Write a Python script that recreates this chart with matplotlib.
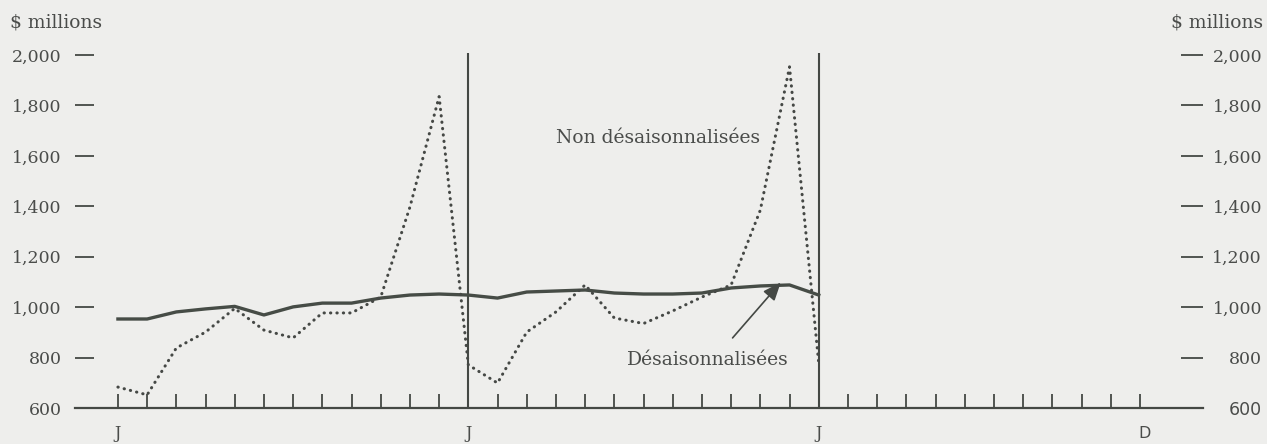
import matplotlib
matplotlib.use("Agg")
import matplotlib.pyplot as plt
from matplotlib.transforms import ScaledTranslation

# ---- data (monthly, $ millions) ----
months = list(range(25))  # J (year 1) ... J (year 3)
seasonally_adjusted = [953, 953, 981, 993, 1003, 969, 1001, 1016, 1016, 1036, 1048, 1052,
                       1048, 1036, 1060, 1064, 1068, 1056, 1052, 1052, 1056, 1076, 1084, 1088,
                       1048]
not_adjusted = [683, 652, 838, 901, 995, 909, 878, 977, 977, 1040, 1397, 1835,
                771, 699, 901, 981, 1088, 957, 935, 985, 1040, 1088, 1385, 1953,
                778]
tick_months = list(range(36))
month_labels = {0: "J", 12: "J", 24: "J", 35: "D"}
y_ticks = [600, 800, 1000, 1200, 1400, 1600, 1800, 2000]
y_labels = ["600", "800", "1,000", "1,200", "1,400", "1,600", "1,800", "2,000"]
year_breaks = [12, 24]

W, H = 1267, 444
fig = plt.figure(figsize=(W / 100, H / 100), dpi=100)
bg = "#eeeeec"
ink = "#444844"
txt = "#4a4c4a"
fig.patch.set_facecolor(bg)
serif = ["DejaVu Serif"]
sans = ["DejaVu Sans"]

ax = fig.add_axes([75 / W, (H - 408) / H, (1203 - 75) / W, (408 - 55) / H])
ax.set_facecolor(bg)
ax.set_xlim(-1.47, 37.16)
ax.set_ylim(600, 2000)

for s in ["top", "left", "right"]:
    ax.spines[s].set_visible(False)
ax.spines["bottom"].set_color(ink)
ax.spines["bottom"].set_linewidth(1.6)

# year separators
ax.vlines(year_breaks, 600, 2008, colors=ink, linewidth=1.5, clip_on=False, zorder=2)

# series
ax.plot(months, seasonally_adjusted, color="#464c46", linewidth=2.4,
        solid_joinstyle="round", zorder=3)
ax.plot(months, not_adjusted, color="#454845", linewidth=2.2,
        linestyle=(0, (0.1, 2.0)), dash_capstyle="round", zorder=4)

# x ticks
ax.set_xticks(tick_months)
ax.set_xticklabels([month_labels.get(m, "") for m in tick_months], family=serif,
                   fontsize=11.5, color=txt)
ax.tick_params(axis="x", direction="in", length=10, width=1.3, color=ink, pad=12)
xt = ax.xaxis.get_major_ticks()
xt[35].label1.set_family(sans)
xt[35].label1.set_fontsize(11.5)
xt[35].label1.set_transform(xt[35].label1.get_transform() +
                            ScaledTranslation(5 / 100, -1 / 100, fig.dpi_scale_trans))

# y ticks on both sides
ax.set_yticks(y_ticks)
ax.set_yticklabels(y_labels, family=serif, fontsize=12.5, color=txt)
ax.tick_params(axis="y", which="major", direction="in", length=13.5, width=1.3, color=ink,
               left=True, right=True, labelleft=True, labelright=True, pad=9.5)
off = ScaledTranslation(59 / 100 - 9.5 / 72, 0, fig.dpi_scale_trans)
for t in ax.yaxis.get_major_ticks():
    t.tick2line.set_markersize(16)
    t.label2.set_horizontalalignment("right")
    t.label2.set_transform(t.label2.get_transform() + off)
yt = ax.yaxis.get_major_ticks()
yt[0].label2.set_family(sans)
yt[0].label2.set_fontsize(12.5)

# unit labels
fig.text(10 / W, 1 - 22 / H, "$ millions", family=serif, fontsize=13.5, color=txt,
         ha="left", va="center")
fig.text(1263 / W, 1 - 22 / H, "$ millions", family=serif, fontsize=13.5, color=txt,
         ha="right", va="center")

# annotations
ax.text(18.5, 1672, "Non désaisonnalisées", family=serif, fontsize=13.5, color=txt,
        ha="center", va="center")
ax.annotate("", xy=(22.7, 1098), xytext=(21.05, 878),
            arrowprops=dict(arrowstyle="-|>,head_length=1.1,head_width=0.45",
                            color=ink, linewidth=1.2, shrinkA=0, shrinkB=0))
ax.text(20.2, 790, "Désaisonnalisées", family=serif, fontsize=13.5, color=txt,
        ha="center", va="center")

fig.savefig("out.png", dpi=100, facecolor=bg)
